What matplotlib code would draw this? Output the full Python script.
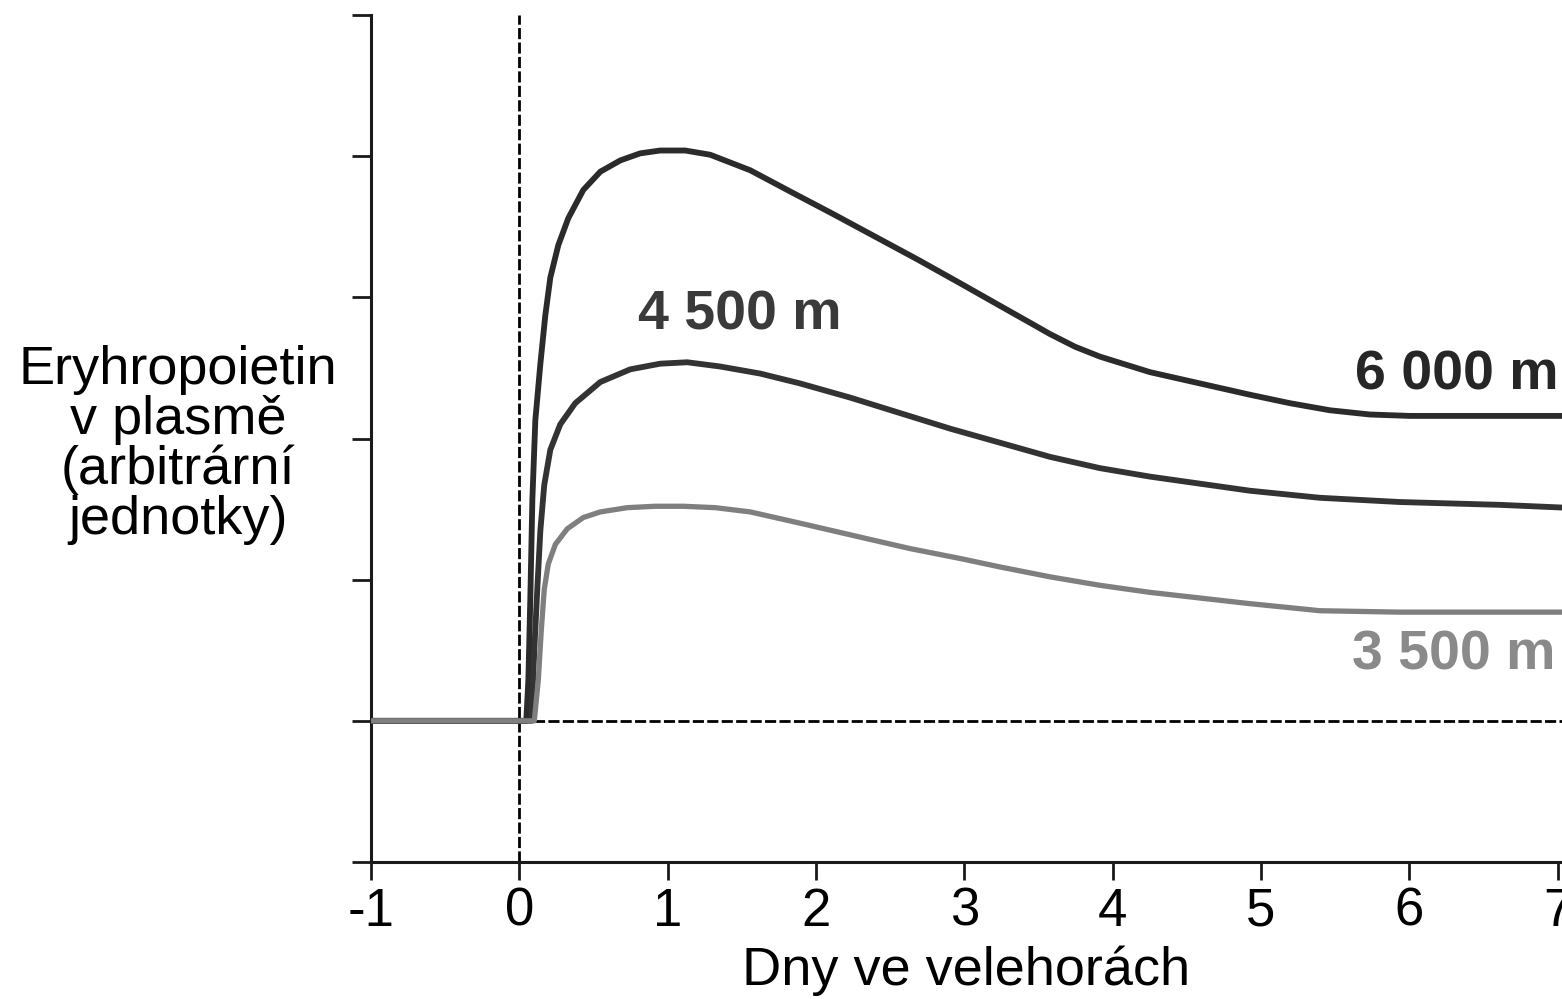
import matplotlib
matplotlib.use("Agg")
import matplotlib.pyplot as plt

plt.rcParams['font.family'] = ['Liberation Sans', 'DejaVu Sans']

# values (days, arbitrary units; baseline = 1)
days_6000 = [-1.0, 0.047, 0.061, 0.074, 0.088, 0.108, 0.142, 0.175, 0.209, 0.263, 0.330,
             0.431, 0.546, 0.681, 0.815, 0.950, 1.119, 1.287, 1.557, 1.826, 2.116,
             2.399, 2.682, 2.972, 3.241, 3.410, 3.578, 3.747, 3.915, 4.252, 4.589,
             4.926, 5.196, 5.465, 5.734, 6.004, 7.05]
epo_6000 = [1.0, 1.0, 1.29, 1.86, 2.57, 3.13, 3.53, 3.87, 4.14, 4.37, 4.56,
            4.76, 4.89, 4.97, 5.02, 5.04, 5.04, 5.01, 4.90, 4.75, 4.59,
            4.43, 4.27, 4.10, 3.94, 3.84, 3.74, 3.65, 3.58, 3.47, 3.39,
            3.31, 3.25, 3.20, 3.17, 3.16, 3.16]

days_4500 = [-1.0, 0.081, 0.101, 0.121, 0.142, 0.168, 0.209, 0.276, 0.377, 0.546, 0.748,
             0.950, 1.132, 1.354, 1.624, 1.893, 2.230, 2.567, 2.904, 3.241, 3.578,
             3.915, 4.252, 4.589, 4.926, 5.398, 5.937, 6.611, 7.05]
epo_4500 = [1.0, 1.0, 1.50, 1.93, 2.35, 2.67, 2.92, 3.10, 3.25, 3.40, 3.49,
            3.53, 3.54, 3.51, 3.46, 3.39, 3.29, 3.18, 3.07, 2.97, 2.87,
            2.79, 2.73, 2.68, 2.63, 2.58, 2.55, 2.53, 2.51]

days_3500 = [-1.0, 0.101, 0.128, 0.148, 0.168, 0.195, 0.243, 0.323, 0.431, 0.546, 0.728,
             0.916, 1.105, 1.321, 1.557, 1.893, 2.345, 2.635, 2.972, 3.241, 3.578,
             3.915, 4.252, 4.589, 4.926, 5.398, 5.937, 7.05]
epo_3500 = [1.0, 1.0, 1.29, 1.64, 1.93, 2.11, 2.25, 2.36, 2.44, 2.48, 2.51,
            2.52, 2.52, 2.51, 2.48, 2.40, 2.29, 2.22, 2.15, 2.09, 2.02,
            1.96, 1.91, 1.87, 1.83, 1.78, 1.77, 1.77]

x_ticks = [-1, 0, 1, 2, 3, 4, 5, 6, 7]
x_tick_labels = ['-1', '0', '1', '2', '3', '4', '5', '6', '7']
y_ticks = [0, 1, 2, 3, 4, 5, 6]

fig = plt.figure(figsize=(15.62, 9.99), dpi=100)
ax = fig.add_axes([371 / 1562, 1 - 862 / 999, 1 - 371 / 1562, (862 - 15) / 999])
ax.set_xlim(-1, 7.03)
ax.set_ylim(0, 6)

# reference lines
ax.plot([0, 0], [0, 6], color='black', lw=2, linestyle=(0, (4, 1.2)), zorder=1)
ax.plot([0, 7.05], [1, 1], color='black', lw=2, linestyle=(0, (4, 1.2)), zorder=1)

line_kw = dict(solid_joinstyle='round', solid_capstyle='butt')
ax.plot(days_6000, epo_6000, color='#2b2b2b', lw=4.2, zorder=3, **line_kw)
ax.plot(days_4500, epo_4500, color='#333333', lw=4.2, zorder=3, **line_kw)
ax.plot(days_3500, epo_3500, color='#7f7f7f', lw=3.8, zorder=4, **line_kw)

ax.text(740, 999 - 316, '4 500 m', transform=None, ha='center', va='center',
        fontsize=40, fontweight='bold', color='#3a3a3a')
ax.text(1355, 999 - 375, '6 000 m', transform=None, ha='left', va='center',
        fontsize=40, fontweight='bold', color='#262626')
ax.text(1352, 999 - 655, '3 500 m', transform=None, ha='left', va='center',
        fontsize=40, fontweight='bold', color='#8a8a8a')

for side in ['top', 'right']:
    ax.spines[side].set_visible(False)
for side in ['left', 'bottom']:
    ax.spines[side].set_linewidth(2.2)
    ax.spines[side].set_color('#1a1a1a')

ax.set_yticks(y_ticks)
ax.set_yticklabels([])
ax.tick_params(axis='y', direction='out', length=14, width=2, color='#1a1a1a')
ax.set_xticks(x_ticks)
ax.set_xticklabels(x_tick_labels)
ax.tick_params(axis='x', direction='out', length=13, width=2, color='#1a1a1a',
               labelsize=38, pad=5)
ax.set_xlabel('Dny ve velehorách', fontsize=39, labelpad=6)

fig.text(178 / 1562, 1 - 445 / 999, 'Eryhropoietin\nv plasmě\n(arbitrární\njednotky)',
         ha='center', va='center', fontsize=39, linespacing=1.0)

fig.savefig('out.png', dpi=100)
